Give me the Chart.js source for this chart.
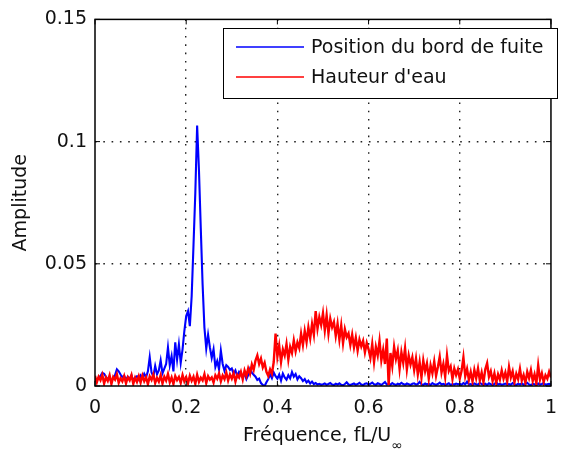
<!DOCTYPE html>
<html>
<head>
<meta charset="utf-8">
<script src="https://cdn.jsdelivr.net/npm/chart.js@4.4.1/dist/chart.umd.min.js"></script>
<style>
  body { margin: 0; background: #fff; }
  #wrap { width: 568px; height: 457px; }
</style>
</head>
<body>
<div id="wrap"><canvas id="spectre" width="568" height="457"></canvas></div>
<script>
// spectres d'amplitude, pas en frequence reduite = 0.004 (0 -> 1)
const freqStep = 0.004;
const freq = [];
for (let i = 0; i <= 250; i++) freq.push(+(i * freqStep).toFixed(3));

// position du bord de fuite
const bordFuite = [
  0.0030, 0.0022, 0.0035, 0.0041, 0.0054, 0.0050, 0.0038, 0.0026, 0.0031, 0.0019, 0.0034, 0.0045, 0.0068, 0.0060, 0.0047, 0.0036, 0.0042, 0.0025, 0.0038, 0.0029, 0.0044, 0.0021, 0.0035, 0.0040, 0.0027,
  0.0043, 0.0032, 0.0050, 0.0036, 0.0060, 0.0118, 0.0055, 0.0039, 0.0082, 0.0048, 0.0064, 0.0105, 0.0052, 0.0071, 0.0090, 0.0158, 0.0085, 0.0122, 0.0060, 0.0179, 0.0108, 0.0170, 0.0095, 0.0150, 0.0226,
  0.0286, 0.0306, 0.0245, 0.0367, 0.0575, 0.0790, 0.1066, 0.0884, 0.0645, 0.0415, 0.0239, 0.0153, 0.0210, 0.0158, 0.0115, 0.0150, 0.0078, 0.0102, 0.0068, 0.0145, 0.0090, 0.0062, 0.0085, 0.0078, 0.0066,
  0.0072, 0.0050, 0.0064, 0.0041, 0.0058, 0.0048, 0.0035, 0.0052, 0.0028, 0.0044, 0.0070, 0.0055, 0.0046, 0.0038, 0.0025, 0.0030, 0.0012, 0.0004, 0.0000, 0.0015, 0.0028, 0.0048, 0.0032, 0.0055, 0.0040,
  0.0030, 0.0047, 0.0022, 0.0051, 0.0035, 0.0026, 0.0044, 0.0031, 0.0057, 0.0038, 0.0049, 0.0027, 0.0040, 0.0032, 0.0020, 0.0028, 0.0014, 0.0022, 0.0010, 0.0018, 0.0008, 0.0012, 0.0006, 0.0009, 0.0005,
  0.0007, 0.0010, 0.0005, 0.0008, 0.0012, 0.0006, 0.0004, 0.0009, 0.0006, 0.0011, 0.0005, 0.0003, 0.0008, 0.0015, 0.0006, 0.0004, 0.0007, 0.0010, 0.0005, 0.0008, 0.0013, 0.0006, 0.0004, 0.0009, 0.0011,
  0.0006, 0.0009, 0.0014, 0.0007, 0.0005, 0.0011, 0.0008, 0.0004, 0.0010, 0.0016, 0.0006, 0.0008, 0.0005, 0.0012, 0.0007, 0.0004, 0.0009, 0.0006, 0.0013, 0.0008, 0.0005, 0.0010, 0.0007, 0.0004, 0.0009,
  0.0011, 0.0006, 0.0008, 0.0017, 0.0007, 0.0005, 0.0010, 0.0006, 0.0009, 0.0004, 0.0012, 0.0007, 0.0005, 0.0008, 0.0014, 0.0006, 0.0009, 0.0005, 0.0007, 0.0011, 0.0004, 0.0008, 0.0006, 0.0010, 0.0007,
  0.0009, 0.0005, 0.0012, 0.0007, 0.0018, 0.0006, 0.0008, 0.0004, 0.0010, 0.0007, 0.0005, 0.0013, 0.0008, 0.0006, 0.0009, 0.0004, 0.0011, 0.0007, 0.0005, 0.0008, 0.0015, 0.0006, 0.0009, 0.0005, 0.0007,
  0.0010, 0.0006, 0.0008, 0.0005, 0.0012, 0.0007, 0.0004, 0.0009, 0.0006, 0.0011, 0.0005, 0.0008, 0.0013, 0.0006, 0.0004, 0.0009, 0.0007, 0.0005, 0.0010, 0.0006, 0.0008, 0.0012, 0.0005, 0.0007, 0.0009,
  0.0006
];

// hauteur d'eau
const hauteurEau = [
  0.0042, 0.0015, 0.0038, 0.0024, 0.0046, 0.0010, 0.0035, 0.0021, 0.0044, 0.0008, 0.0037, 0.0026, 0.0048, 0.0013, 0.0032, 0.0019, 0.0041, 0.0011, 0.0036, 0.0023, 0.0045, 0.0009, 0.0034, 0.0017, 0.0040,
  0.0014, 0.0043, 0.0020, 0.0036, 0.0007, 0.0039, 0.0025, 0.0047, 0.0012, 0.0033, 0.0018, 0.0044, 0.0010, 0.0038, 0.0022, 0.0049, 0.0015, 0.0035, 0.0008, 0.0041, 0.0024, 0.0037, 0.0013, 0.0045, 0.0019,
  0.0036, 0.0011, 0.0042, 0.0021, 0.0038, 0.0009, 0.0046, 0.0017, 0.0034, 0.0023, 0.0048, 0.0012, 0.0040, 0.0026, 0.0035, 0.0014, 0.0044, 0.0030, 0.0051, 0.0019, 0.0043, 0.0028, 0.0055, 0.0022, 0.0047,
  0.0030, 0.0052, 0.0018, 0.0046, 0.0035, 0.0058, 0.0027, 0.0064, 0.0041, 0.0072, 0.0050, 0.0088, 0.0066, 0.0104, 0.0125, 0.0090, 0.0112, 0.0076, 0.0095, 0.0058, 0.0041, 0.0068, 0.0050, 0.0098, 0.0214,
  0.0120, 0.0165, 0.0098, 0.0150, 0.0125, 0.0172, 0.0108, 0.0160, 0.0135, 0.0186, 0.0142, 0.0178, 0.0155, 0.0214, 0.0168, 0.0225, 0.0180, 0.0240, 0.0195, 0.0254, 0.0210, 0.0306, 0.0235, 0.0282, 0.0250,
  0.0298, 0.0228, 0.0290, 0.0215, 0.0275, 0.0240, 0.0262, 0.0205, 0.0255, 0.0190, 0.0248, 0.0175, 0.0232, 0.0200, 0.0215, 0.0168, 0.0210, 0.0158, 0.0198, 0.0145, 0.0190, 0.0162, 0.0185, 0.0138, 0.0176,
  0.0150, 0.0115, 0.0172, 0.0098, 0.0160, 0.0125, 0.0185, 0.0105, 0.0148, 0.0090, 0.0194, 0.0004, 0.0135, 0.0082, 0.0160, 0.0110, 0.0145, 0.0070, 0.0138, 0.0095, 0.0155, 0.0068, 0.0125, 0.0088, 0.0118,
  0.0065, 0.0112, 0.0048, 0.0098, 0.0035, 0.0105, 0.0060, 0.0092, 0.0030, 0.0085, 0.0052, 0.0100, 0.0042, 0.0078, 0.0120, 0.0055, 0.0090, 0.0038, 0.0125, 0.0062, 0.0080, 0.0028, 0.0072, 0.0045, 0.0068,
  0.0030, 0.0062, 0.0117, 0.0040, 0.0070, 0.0025, 0.0058, 0.0018, 0.0066, 0.0032, 0.0072, 0.0022, 0.0055, 0.0015, 0.0068, 0.0093, 0.0038, 0.0060, 0.0020, 0.0052, 0.0012, 0.0048, 0.0026, 0.0064, 0.0030,
  0.0055, 0.0018, 0.0078, 0.0035, 0.0060, 0.0015, 0.0050, 0.0028, 0.0070, 0.0022, 0.0045, 0.0012, 0.0058, 0.0032, 0.0065, 0.0020, 0.0048, 0.0010, 0.0085, 0.0026, 0.0052, 0.0016, 0.0044, 0.0030, 0.0058,
  0.0035
];

const xTicks = [0, 0.2, 0.4, 0.6, 0.8, 1];
const yTicks = [0, 0.05, 0.1, 0.15];

const FONT = 'DejaVu Sans';
const FONT_SIZE = 19;

function toPoints(values) {
  return values.map((v, i) => ({ x: freq[i], y: v }));
}

function fmt(v) {
  return String(Number(v.toFixed(2)));
}

// cadre complet, graduations vers l'interieur, titres d'axes et legende
const cadre = {
  id: 'cadre',
  afterDraw(chart) {
    const c = chart.ctx;
    const a = chart.chartArea;
    const sx = chart.scales.x, sy = chart.scales.y;

    c.save();
    c.strokeStyle = '#000';
    c.lineWidth = 1.5;
    c.strokeRect(a.left, a.top, a.right - a.left, a.bottom - a.top);

    c.beginPath();
    xTicks.forEach(t => {
      const px = sx.getPixelForValue(t);
      c.moveTo(px, a.bottom); c.lineTo(px, a.bottom - 5);
      c.moveTo(px, a.top); c.lineTo(px, a.top + 5);
    });
    yTicks.forEach(t => {
      const py = sy.getPixelForValue(t);
      c.moveTo(a.left, py); c.lineTo(a.left + 5, py);
      c.moveTo(a.right, py); c.lineTo(a.right - 5, py);
    });
    c.lineWidth = 1;
    c.stroke();

    // titres
    c.fillStyle = '#111';
    c.font = FONT_SIZE + 'px "' + FONT + '"';
    c.textBaseline = 'middle';
    c.save();
    c.translate(21, (a.top + a.bottom) / 2);
    c.rotate(-Math.PI / 2);
    c.textAlign = 'center';
    c.fillText('Amplitude', 0, 0);
    c.restore();

    const main = 'Fréquence, fL/U';
    const sub = '∞';
    c.textAlign = 'left';
    const wMain = c.measureText(main).width;
    c.font = '14px "' + FONT + '"';
    const wSub = c.measureText(sub).width;
    const x0 = (a.left + a.right) / 2 - (wMain + wSub) / 2;
    c.font = FONT_SIZE + 'px "' + FONT + '"';
    c.fillText(main, x0, 436);
    c.font = '14px "' + FONT + '"';
    c.fillText(sub, x0 + wMain, 446);

    // legende
    const box = { x: 223, y: 28, w: 334, h: 70 };
    c.fillStyle = '#fff';
    c.fillRect(box.x, box.y, box.w, box.h);
    c.strokeStyle = '#000';
    c.lineWidth = 1;
    c.strokeRect(box.x + 0.5, box.y + 0.5, box.w, box.h);
    c.font = FONT_SIZE + 'px "' + FONT + '"';
    c.textBaseline = 'middle';
    chart.data.datasets.forEach((ds, i) => {
      const yy = box.y + 19 + i * 30;
      c.strokeStyle = ds.borderColor;
      c.lineWidth = 1.5;
      c.beginPath();
      c.moveTo(box.x + 13, yy);
      c.lineTo(box.x + 81, yy);
      c.stroke();
      c.fillStyle = '#111';
      c.fillText(ds.label, box.x + 88, yy + 1);
    });
    c.restore();
  }
};

const ctx = document.getElementById('spectre');

// pointilles de la grille
const gridDash = { display: false, dash: [1.6, 6.7] };

const cfg = {
  type: 'line',
  data: {
    datasets: [
      {
        label: 'Position du bord de fuite',
        data: toPoints(bordFuite),
        borderColor: '#0000ff',
        borderWidth: 2.1,
        pointRadius: 0,
        order: 1
      },
      {
        label: "Hauteur d'eau",
        data: toPoints(hauteurEau),
        borderColor: '#ff0000',
        borderWidth: 2.4,
        pointRadius: 0,
        order: 0
      }
    ]
  },
  options: {
    responsive: false,
    animation: false,
    layout: { autoPadding: false, padding: { top: 14, right: 2, left: 0, bottom: 0 } },
    plugins: { legend: { display: false }, tooltip: { enabled: false } },
    scales: {
      x: {
        type: 'linear',
        min: 0,
        max: 1,
        afterBuildTicks: s => { s.ticks = xTicks.map(v => ({ value: v })); },
        afterFit: s => { s.height = 71; },
        border: gridDash,
        grid: {
          drawTicks: false,
          color: c => (c.tick && (c.tick.value === 0 || c.tick.value === 1)) ? 'rgba(0,0,0,0)' : '#222',
          lineWidth: 1.4
        },
        ticks: {
          padding: 11,
          color: '#111',
          maxRotation: 0,
          font: { family: FONT, size: FONT_SIZE },
          callback: v => fmt(v)
        }
      },
      y: {
        min: 0,
        max: 0.15,
        afterBuildTicks: s => { s.ticks = yTicks.map(v => ({ value: v })); },
        afterFit: s => { s.width = 95; },
        border: gridDash,
        grid: {
          drawTicks: false,
          color: c => (c.tick && (c.tick.value === 0 || c.tick.value === 0.15)) ? 'rgba(0,0,0,0)' : '#222',
          lineWidth: 1.4
        },
        ticks: {
          padding: 8,
          color: '#111',
          font: { family: FONT, size: FONT_SIZE },
          callback: v => fmt(v)
        }
      }
    }
  },
  plugins: [cadre]
};

let spectre = new Chart(ctx, cfg);
</script>
</body>
</html>
